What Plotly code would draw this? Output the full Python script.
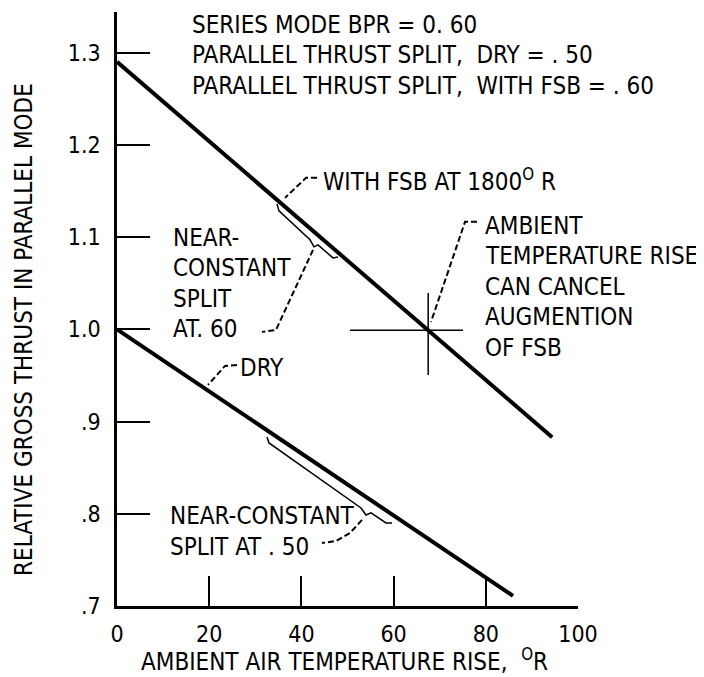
import plotly.graph_objects as go

# ---- data ----
fsb_x = [0, 94.4]
fsb_y = [1.290, 0.883]
dry_x = [0, 85.9]
dry_y = [1.000, 0.711]

x_ticks = [0, 20, 40, 60, 80, 100]
x_ticklabels = ["0", "20", "40", "60", "80", "100"]
y_ticks = [0.7, 0.8, 0.9, 1.0, 1.1, 1.2, 1.3]
y_ticklabels = [".7", ".8", ".9", "1.0", "1.1", "1.2", "1.3"]

x_title = "AMBIENT AIR TEMPERATURE RISE,  <sup>O</sup>R"
y_title = "RELATIVE GROSS THRUST IN PARALLEL MODE"
header_lines = [
    "SERIES MODE BPR = 0. 60",
    "PARALLEL THRUST SPLIT,  DRY = . 50",
    "PARALLEL THRUST SPLIT,  WITH FSB = . 60",
]
fsb_label = "WITH FSB AT 1800<sup>O</sup> R"
fsb_split_lines = ["NEAR-", "CONSTANT", "SPLIT", "AT. 60"]
ambient_lines = ["AMBIENT", "TEMPERATURE RISE", "CAN CANCEL", "AUGMENTION", "OF FSB"]
dry_label = "DRY"
dry_split_lines = ["NEAR-CONSTANT", "SPLIT AT . 50"]

cross_x = 67.5
cross_y = 0.999

# The page has an 8px body margin; figure is placed at (8, 8).
# Target plot area in window pixels: x 117..578, y 12..606
OFF = 8
PL, PT, PW, PH = 117, 12, 461, 594

def X(px):
    return (px - PL) / 4.61

def Y(py):
    return 0.7 + (PT + PH - py) / 922.0

def XP(px):
    return (px - PL) / PW

def YP(py):
    return (PT + PH - py) / PH

FONT = "DejaVu Sans Condensed, Liberation Sans Narrow, sans-serif"
fs = 24

fig = go.Figure()
fig.add_trace(go.Scatter(x=fsb_x, y=fsb_y, mode="lines",
                         line=dict(color="black", width=4), showlegend=False))
fig.add_trace(go.Scatter(x=dry_x, y=dry_y, mode="lines",
                         line=dict(color="black", width=4), showlegend=False))

annotations = []
def txt(px, py, s, size=fs):
    annotations.append(dict(x=X(px), y=Y(py), text=s, showarrow=False,
                            xanchor="left", yanchor="middle", borderpad=0,
                            font=dict(family=FONT, size=size, color="black")))

for i, s in enumerate(header_lines):
    txt(191, 25 + 30.5 * i, s)
txt(322, 180, fsb_label)
for i, s in enumerate(fsb_split_lines):
    txt(172, 238 + 30.5 * i, s)
for i, s in enumerate(ambient_lines):
    txt(484, 226 + 30.5 * i, s)
txt(239, 368, dry_label)
for i, s in enumerate(dry_split_lines):
    txt(169, 516 + 31 * i, s)
# axis titles (paper coordinates)
annotations.append(dict(xref="paper", yref="paper", x=XP(344), y=YP(660),
                        text=x_title, showarrow=False, xanchor="center",
                        yanchor="middle", font=dict(family=FONT, size=24)))
annotations.append(dict(xref="paper", yref="paper", x=XP(24), y=YP(330),
                        text=y_title, showarrow=False, xanchor="center",
                        yanchor="middle", textangle=-90,
                        font=dict(family=FONT, size=24)))

shapes = []
DASH = "6px,3px"
def path(pts, dash="solid", width=2):
    d = "M " + " L ".join(f"{X(a):.3f},{Y(b):.4f}" for a, b in pts)
    shapes.append(dict(type="path", path=d, xref="x", yref="y",
                       line=dict(color="black", width=width, dash=dash)))

# leaders
path([(317, 178), (306, 178), (285, 198)], dash=DASH)
path([(313, 250), (276, 330), (262, 332)], dash=DASH)
path([(477, 222), (465, 222), (431, 322)], dash=DASH)
path([(237, 365), (225, 366), (208, 385)], dash=DASH)
path([(362, 520), (350, 533), (336, 541), (322, 543)], dash=DASH)
# braces
path([(277, 204), (279, 211), (310, 240), (314, 247), (318, 245), (333, 258), (338, 257)], width=1.5)
path([(267, 437), (269, 443), (361, 508), (366, 515), (371, 513), (386, 523), (392, 523)], width=1.5)
# cross
shapes.append(dict(type="line", xref="x", yref="y", x0=X(350), x1=X(463),
                   y0=cross_y, y1=cross_y, line=dict(color="black", width=1.5)))
shapes.append(dict(type="line", xref="x", yref="y", x0=cross_x, x1=cross_x,
                   y0=Y(375), y1=Y(293), line=dict(color="black", width=1.5)))

W, H = 704 - OFF, 677 - OFF
ml, mt = PL - OFF, PT - OFF
fig.update_layout(
    width=W, height=H,
    margin=dict(l=ml, r=W - ml - PW, t=mt, b=H - mt - PH, autoexpand=False),
    paper_bgcolor="white", plot_bgcolor="white",
    font=dict(family=FONT, size=fs, color="black"),
    annotations=annotations, shapes=shapes,
    showlegend=False,
)
fig.update_xaxes(range=[0, 100], tickvals=x_ticks, ticktext=x_ticklabels,
                 showgrid=False, zeroline=False, showline=True, linecolor="black",
                 linewidth=2.5, ticks="inside", ticklen=30, tickwidth=2,
                 tickcolor="black", ticklabelstandoff=6, automargin=False,
                 tickfont=dict(family=FONT, size=23))
fig.update_yaxes(range=[0.7, 1.344], tickvals=y_ticks, ticktext=y_ticklabels,
                 showgrid=False, zeroline=False, showline=True, linecolor="black",
                 linewidth=2.5, ticks="inside", ticklen=33, tickwidth=2,
                 tickcolor="black", ticklabelstandoff=9, automargin=False,
                 tickfont=dict(family=FONT, size=23))

fig.write_html("out.html")
